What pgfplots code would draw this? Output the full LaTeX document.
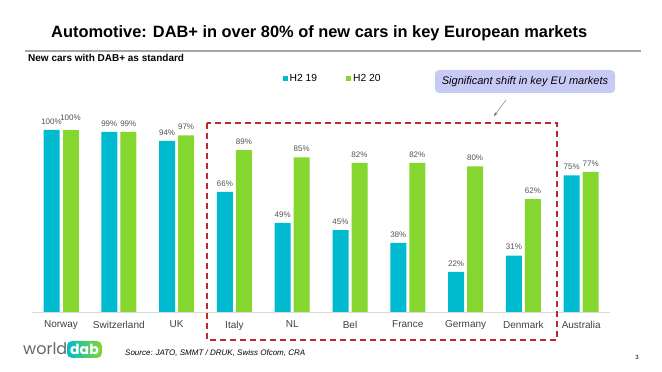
\documentclass[border=0pt]{standalone}
\usepackage{pgfplots}
\pgfplotsset{compat=1.18}
\usepackage{fontspec}
\setmainfont{Liberation Sans}
\newfontfamily\logofont{Poppins}
\usetikzlibrary{arrows.meta}
\definecolor{cteal}{HTML}{00BBD0}
\definecolor{cgreen}{HTML}{85D62F}
\definecolor{cred}{HTML}{C0272D}
\definecolor{clav}{HTML}{C8CAF6}
\definecolor{ctext}{HTML}{404040}
\begin{document}
\begin{tikzpicture}[x=1pt,y=1pt]
\path (0,0) rectangle (662,372);
% title
\node[anchor=west,font=\bfseries\fontsize{16.4}{18}\selectfont,inner sep=0pt] at (51,339) {Automotive: DAB+ in over 80\% of new cars in key European markets};
\draw[gray!70,line width=1.3pt] (25,321) -- (641,321);
\node[anchor=west,font=\bfseries\fontsize{10}{12}\selectfont,inner sep=0pt] at (28,314) {New cars with DAB+ as standard};
\begin{axis}[
  at={(32.1pt,60pt)}, anchor=south west,
  scale only axis, width=578pt, height=200.2pt,
  xmin=-0.5, xmax=9.5, ymin=0, ymax=110,
  ybar, bar width=16pt,
  axis x line*=bottom, axis y line=none,
  axis line style={gray!30,line width=0.6pt},
  xtick={0,...,9}, xtick style={draw=none},
  xticklabels={Norway,Switzerland,UK,Italy,NL,Bel,France,Germany,Denmark,Australia},
  xticklabel style={font=\fontsize{10}{12}\selectfont,text=ctext,yshift=-1pt},
  /pgf/number format/assume math mode=true,
  nodes near coords={\pgfmathprintnumber{\pgfplotspointmeta}\%},
  every node near coord/.append style={font=\fontsize{8}{9}\selectfont,text=ctext!90,yshift=2pt},
  legend columns=2,
  legend style={at={(0.428,1.164)},anchor=west,draw=none,fill=none,font=\fontsize{10.3}{12}\selectfont,
    /tikz/column 2/.style={column sep=27pt}},
  legend image code/.code={\fill[#1] (0pt,-2.5pt) rectangle (5pt,2.5pt);},
]
\addplot[fill=cteal,draw=none,bar shift=-9.5pt] coordinates {(0,100) (1,99) (2,94) (3,66) (4,49) (5,45) (6,38) (7,22) (8,31) (9,75)};
\addplot[fill=cgreen,draw=none,bar shift=9.5pt] coordinates {(1,99) (2,97) (3,89) (4,85) (5,82) (6,82) (7,80) (8,62) (9,77)};
\addplot[fill=cgreen,draw=none,bar shift=9.5pt,forget plot,every node near coord/.append style={yshift=4pt}] coordinates {(0,100)};
\legend{H2 19,H2 20}
\end{axis}
% dashed box
\draw[cred,line width=1.4pt,dash pattern=on 6pt off 4pt] (207,249) rectangle (557,32);
% callout
\node[fill=clav,rounded corners=4pt,minimum width=180pt,minimum height=23pt,inner sep=0pt,font=\itshape\fontsize{11}{12}\selectfont] at (525,290.5) {Significant shift in key EU markets};
\draw[gray!80!black,line width=0.4pt,-{Stealth[length=4pt,width=3pt]}] (506,272) -- (494,256);
% logo
\node[anchor=west,text=gray!80!black,font=\logofont\fontsize{16}{18}\selectfont,inner sep=0pt] at (23,23) {world};
\shade[left color=cteal,right color=cgreen,rounded corners=5pt] (67,14) rectangle (102,31);
\node[text=white,font=\logofont\bfseries\fontsize{14}{15}\selectfont,inner sep=0pt] at (84.5,23) {dab};
% source
\node[anchor=west,font=\itshape\fontsize{8}{9}\selectfont,inner sep=0pt] at (125,19) {Source: JATO, SMMT / DRUK, Swiss Ofcom, CRA};
\node[font=\fontsize{6}{7}\selectfont,inner sep=0pt] at (637,15) {3};
\end{tikzpicture}
\end{document}
